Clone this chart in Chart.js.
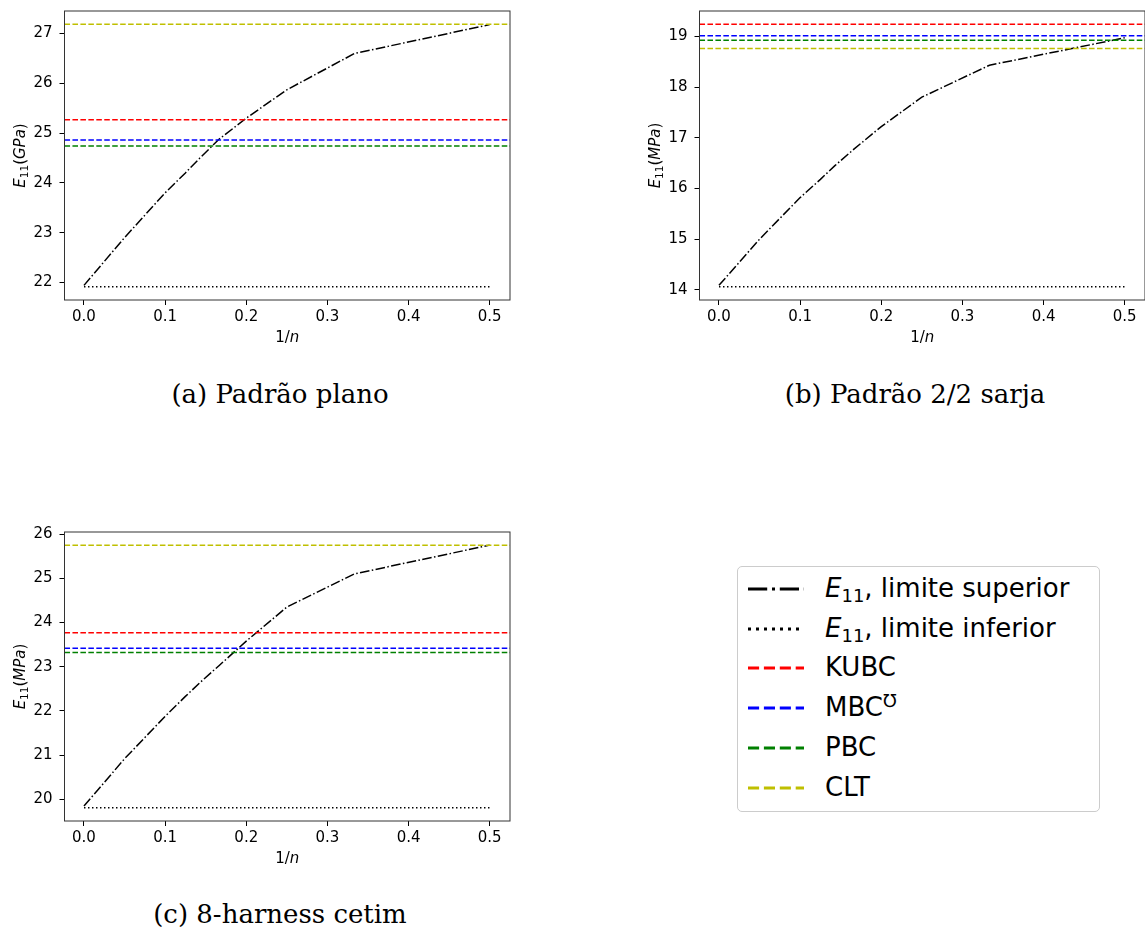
<!DOCTYPE html>
<html>
<head>
<meta charset="utf-8">
<script src="https://cdn.jsdelivr.net/npm/chart.js@4/dist/chart.umd.min.js"></script>
<style>
  html, body { margin:0; padding:0; background:#fff; }
  body { width:1145px; height:931px; position:relative; overflow:hidden; font-family:"DejaVu Sans", sans-serif; }
  canvas { position:absolute; }
  .cap { position:absolute; font-family:"DejaVu Serif", serif; font-size:26px; line-height:30px; text-align:center; color:#000; white-space:nowrap; }
  #legend { position:absolute; left:737px; top:566px; width:361px; height:244px; border:1.5px solid #cccccc; border-radius:5px; background:#fff; }
  .row { position:absolute; left:0; height:40px; width:360px; }
  .row svg { position:absolute; left:10px; top:15px; }
  .row span { position:absolute; left:87px; top:3px; font-size:26px; line-height:32px; color:#000; white-space:nowrap; }
  .row i { font-style:italic; }
  .row sub { font-size:18px; vertical-align:-5px; line-height:0; }
  .row sup { font-size:18px; vertical-align:9px; line-height:0; }
</style>
</head>
<body>
<canvas id="cA" width="520" height="345" style="left:0px; top:0px;"></canvas>
<canvas id="cB" width="510" height="345" style="left:635px; top:0px;"></canvas>
<canvas id="cC" width="520" height="345" style="left:0px; top:520px;"></canvas>

<div class="cap" style="left:80px; width:400px; top:379px;">(a) Padrão plano</div>
<div class="cap" style="left:715px; width:400px; top:379px;">(b) Padrão 2/2 sarja</div>
<div class="cap" style="left:80px; width:400px; top:899px;">(c) 8-harness cetim</div>

<div id="legend"></div>

<script>
// ---- data ----
const nValues = [Infinity, 20, 10, 8, 7, 6, 5, 4, 3, 2];      // x = 1/n
const xLowerEnds = [0, 0.5];

const upperA = [21.94, 22.90, 23.80, 24.20, 24.50, 24.88, 25.30, 25.87, 26.60, 27.18];
const lowerA = [21.91, 21.91];
const upperB = [14.09, 15.00, 15.82, 16.18, 16.45, 16.78, 17.22, 17.80, 18.43, 18.97];
const lowerB = [14.06, 14.06];
const upperC = [19.85, 20.92, 21.88, 22.33, 22.64, 23.03, 23.58, 24.35, 25.10, 25.75];
const lowerC = [19.81, 19.81];

const refNames = ['KUBC', 'MBC\u2127', 'PBC', 'CLT'];
const refA = [25.27, 24.86, 24.74, 27.19];
const refB = [19.24, 19.01, 18.92, 18.76];
const refC = [23.77, 23.42, 23.32, 25.75];

const xTicks = [0.0, 0.1, 0.2, 0.3, 0.4, 0.5];
const yTicksA = [22, 23, 24, 25, 26, 27];
const yTicksB = [14, 15, 16, 17, 18, 19];
const yTicksC = [20, 21, 22, 23, 24, 25, 26];

const seriesNames = ['E11, limite superior', 'E11, limite inferior'];
const refColors = ['#ff0000', '#0000ff', '#008000', '#bfbf00'];

// ---- styles ----
const DASHDOT = [9.6, 2.4, 1.5, 2.4];
const DOTTED = [1.5, 2.5];
const DASHED = [5.55, 2.4];
const X_MIN = -0.024, X_MAX = 0.525;
const FS = 15;

Chart.defaults.font.family = 'DejaVu Sans';
Chart.defaults.font.size = FS;
Chart.defaults.color = '#000';

function drawRich(ctx, segs, cx, cy, rot) {
  const base = FS, sub = 10.5;
  const fontOf = s => (s.italic ? 'italic ' : '') + (s.sub ? sub : base) + 'px "DejaVu Sans"';
  let w = 0;
  segs.forEach(s => { ctx.font = fontOf(s); s.w = ctx.measureText(s.t).width; w += s.w; });
  ctx.save();
  ctx.translate(cx, cy);
  if (rot) ctx.rotate(-Math.PI / 2);
  ctx.fillStyle = '#000';
  ctx.textBaseline = 'alphabetic';
  ctx.textAlign = 'left';
  let x = -w / 2;
  segs.forEach(s => {
    ctx.font = fontOf(s);
    ctx.fillText(s.t, x, 5.5 + (s.sub ? 3 : 0));
    x += s.w;
  });
  ctx.restore();
}

const framePlugin = {
  id: 'frame',
  afterDraw(chart, args, opts) {
    const { ctx, chartArea: a } = chart;
    ctx.save();
    ctx.strokeStyle = '#333';
    ctx.lineWidth = 1;
    ctx.strokeRect(a.left, a.top, a.right - a.left, a.bottom - a.top);
    ctx.restore();
    drawRich(ctx, opts.xLabel, (a.left + a.right) / 2, a.bottom + 36.5, false);
    drawRich(ctx, opts.yLabel, a.left - 45, (a.top + a.bottom) / 2, true);
  }
};

function makeChart(id, upper, lower, refs, yTicks, unit, layout) {
  const xs = nValues.map(n => 1 / n);
  const all = upper.concat(lower, refs);
  const lo = Math.min(...all), hi = Math.max(...all), span = hi - lo;
  const datasets = [
    { label: seriesNames[0], data: xs.map((x, i) => ({ x, y: upper[i] })), borderColor: '#000', borderDash: DASHDOT, order: 5 },
    { label: seriesNames[1], data: xLowerEnds.map((x, i) => ({ x, y: lower[i] })), borderColor: '#000', borderDash: DOTTED, order: 4 }
  ];
  refs.forEach((v, i) => datasets.push({
    label: refNames[i], data: [{ x: X_MIN, y: v }, { x: X_MAX, y: v }],
    borderColor: refColors[i], borderDash: DASHED, order: 3 - i
  }));
  datasets.forEach(d => { d.borderWidth = 1.5; d.pointRadius = 0; d.tension = 0; d.fill = false; });

  return new Chart(document.getElementById(id), {
    type: 'line',
    data: { datasets },
    plugins: [framePlugin],
    options: {
      responsive: false, animation: false, events: [],
      layout: { padding: layout.padding },
      plugins: {
        legend: { display: false }, tooltip: { enabled: false },
        frame: {
          xLabel: [{ t: '1/' }, { t: 'n', italic: true }],
          yLabel: [{ t: 'E', italic: true }, { t: '11', sub: true }, { t: '(' }, { t: unit, italic: true }, { t: ')' }]
        }
      },
      scales: {
        x: {
          type: 'linear', min: X_MIN, max: X_MAX,
          afterBuildTicks: s => { s.ticks = xTicks.map(v => ({ value: v })); },
          afterFit: s => { s.height = layout.xh; s.paddingLeft = 0; s.paddingRight = 0; },
          ticks: { callback: v => v.toFixed(1), padding: 3, maxRotation: 0, autoSkip: false, color: '#000' },
          grid: { drawOnChartArea: false, drawTicks: true, tickLength: 5, tickColor: '#000', tickWidth: 1 },
          border: { display: false }
        },
        y: {
          type: 'linear', min: lo - 0.05 * span, max: hi + 0.05 * span,
          afterBuildTicks: s => { s.ticks = yTicks.map(v => ({ value: v })); },
          afterFit: s => { s.width = layout.yw; s.paddingTop = 0; s.paddingBottom = 0; },
          ticks: { callback: v => String(v), padding: 7, autoSkip: false, color: '#000' },
          grid: { drawOnChartArea: false, drawTicks: true, tickLength: 5, tickColor: '#000', tickWidth: 1 },
          border: { display: false }
        }
      }
    }
  });
}

makeChart('cA', upperA, lowerA, refA, yTicksA, 'GPa', { padding: { top: 11, right: 10, left: 0, bottom: 0 }, xh: 45, yw: 64.5 });
makeChart('cB', upperB, lowerB, refB, yTicksB, 'MPa', { padding: { top: 11, right: 0, left: 0, bottom: 0 }, xh: 45, yw: 64.5 });
makeChart('cC', upperC, lowerC, refC, yTicksC, 'MPa', { padding: { top: 12, right: 10, left: 0, bottom: 0 }, xh: 44, yw: 64.5 });

// ---- legend (HTML) ----
const legendEntries = [
  { html: '<i>E</i><sub>11</sub>, limite superior', color: '#000', dash: DASHDOT },
  { html: '<i>E</i><sub>11</sub>, limite inferior', color: '#000', dash: DOTTED },
  { html: 'KUBC', color: refColors[0], dash: DASHED },
  { html: 'MBC<sup>\u2127</sup>', color: refColors[1], dash: DASHED },
  { html: 'PBC', color: refColors[2], dash: DASHED },
  { html: 'CLT', color: refColors[3], dash: DASHED }
];
const rowTops = [2, 42, 81, 121, 161, 201];
const leg = document.getElementById('legend');
legendEntries.forEach((e, i) => {
  const row = document.createElement('div');
  row.className = 'row';
  row.style.top = rowTops[i] + 'px';
  const dash = e.dash.map(d => d * 2).join(' ');
  row.innerHTML = '<svg width="56" height="10"><line x1="0" y1="5" x2="56" y2="5" stroke="' + e.color +
    '" stroke-width="3" stroke-dasharray="' + dash + '"/></svg><span>' + e.html + '</span>';
  leg.appendChild(row);
});
</script>
</body>
</html>
